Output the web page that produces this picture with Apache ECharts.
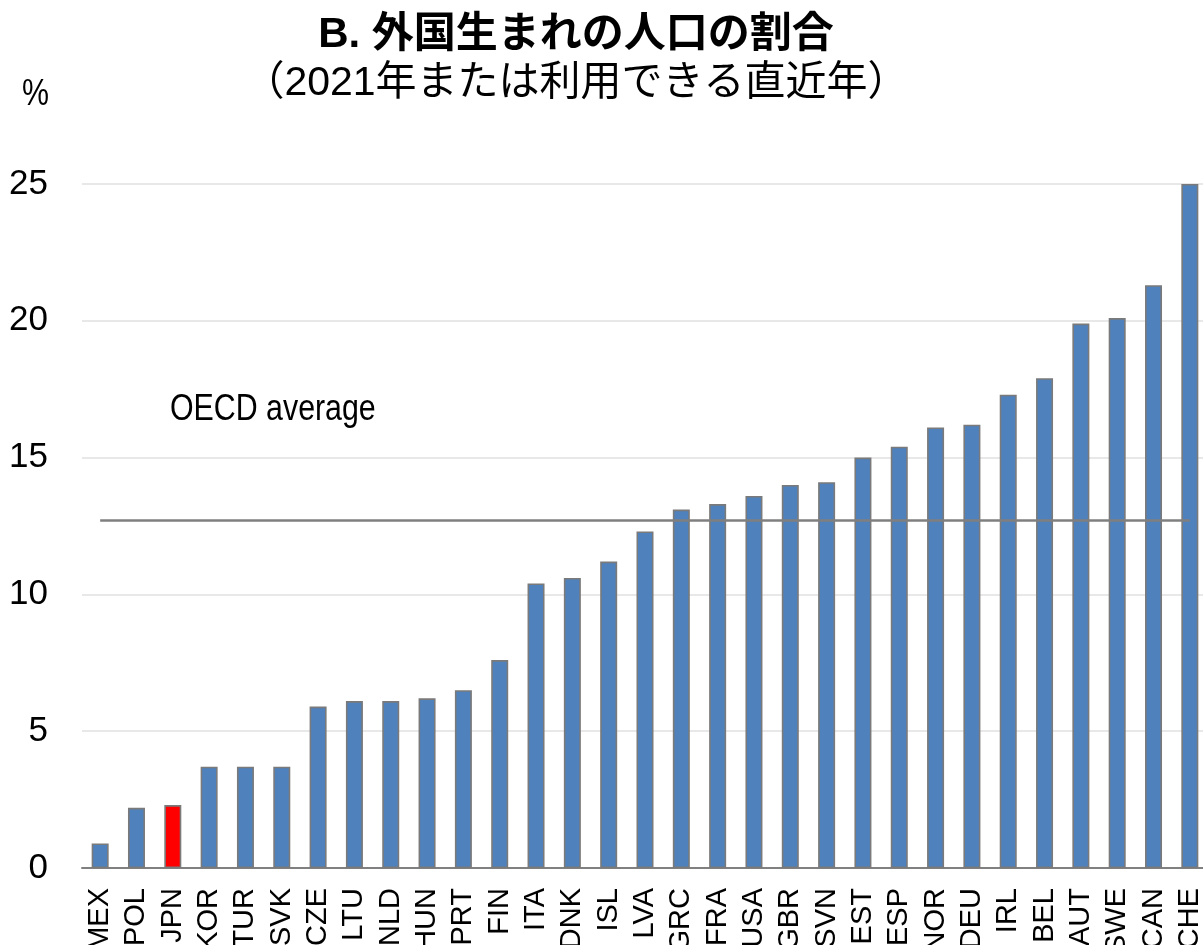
<!DOCTYPE html>
<html>
<head>
<meta charset="utf-8">
<script src="https://cdn.jsdelivr.net/npm/echarts@6/dist/echarts.min.js"></script>
<style>
  html, body { margin: 0; padding: 0; background: #fff; }
  #chart { width: 1203px; height: 945px; }
</style>
</head>
<body>
<div id="chart"></div>
<script>
// countries, sorted by share of foreign-born population
const countries = ['MEX', 'POL', 'JPN', 'KOR', 'TUR', 'SVK', 'CZE', 'LTU', 'NLD', 'HUN', 'PRT', 'FIN', 'ITA', 'DNK', 'ISL', 'LVA',
    'GRC', 'FRA', 'USA', 'GBR', 'SVN', 'EST', 'ESP', 'NOR', 'DEU', 'IRL', 'BEL', 'AUT', 'SWE', 'CAN', 'CHE'];
const shares = [0.9, 2.2, 2.3, 3.7, 3.7, 3.7, 5.9, 6.1, 6.1, 6.2, 6.5, 7.6, 10.4, 10.6, 11.2, 12.3,
    13.1, 13.3, 13.6, 14.0, 14.1, 15.0, 15.4, 16.1, 16.2, 17.3, 17.9, 19.9, 20.1, 21.3, 25.0];
const oecdAverage = 12.7;
const highlight = 'JPN';
const yTicks = [0, 5, 10, 15, 20, 25];

const latin = '"Liberation Sans", Arial, sans-serif';
const cjk = '"Liberation Sans", "Noto Sans CJK JP", sans-serif';

const chart = echarts.init(document.getElementById('chart'));

const option = {
    animation: false,
    backgroundColor: '#ffffff',
    grid: { left: 82, right: -5, top: 184, bottom: 77, outerBoundsMode: 'none' },
    graphic: [
        {
            type: 'text', x: 576, y: 14,
            style: { text: 'B. 外国生まれの人口の割合', font: 'bold 42px "Liberation Sans", "Noto Sans CJK JP", sans-serif', fill: '#000', textAlign: 'center' }
        },
        {
            type: 'text', x: 576, y: 63,
            style: { text: '（2021年または利用できる直近年）', font: '41px ' + cjk, fill: '#000', textAlign: 'center' }
        },
        {
            type: 'text', x: 22, y: 76, scaleX: 0.82,
            style: { text: '%', font: '37px ' + latin, fill: '#000' }
        },
        {
            type: 'text', x: 170, y: 391, scaleX: 0.82,
            style: { text: 'OECD average', font: '37px ' + latin, fill: '#000' }
        }
    ],
    xAxis: {
        type: 'category',
        data: countries,
        axisLine: { lineStyle: { color: '#808080', width: 2 } },
        axisTick: { inside: true, length: 8, lineStyle: { color: '#808080', width: 1.5 } },
        axisLabel: { rotate: 90, margin: 20, interval: 0, fontFamily: latin, fontSize: 29, color: '#000' }
    },
    yAxis: {
        type: 'value',
        min: yTicks[0],
        max: yTicks[yTicks.length - 1],
        interval: 5,
        axisLine: { show: false },
        axisTick: { show: false },
        axisLabel: { margin: 34, fontFamily: latin, fontSize: 35, color: '#000' },
        splitLine: { lineStyle: { color: '#e0e0e0', width: 1.5 } }
    },
    series: [
        {
            type: 'bar',
            barWidth: 17,
            data: countries.map((c, i) => ({
                value: shares[i],
                itemStyle: { color: c === highlight ? '#ff0000' : '#4f81bd' }
            })),
            itemStyle: { borderColor: '#7a7a7a', borderWidth: 1.6 },
            markLine: {
                silent: true,
                symbol: 'none',
                label: { show: false },
                lineStyle: { color: '#7f7f7f', width: 2.5, type: 'solid' },
                data: [[
                    { coord: [countries[0], oecdAverage] },
                    { coord: [countries[countries.length - 1], oecdAverage] }
                ]]
            }
        }
    ]
};

chart.setOption(option);
</script>
</body>
</html>
